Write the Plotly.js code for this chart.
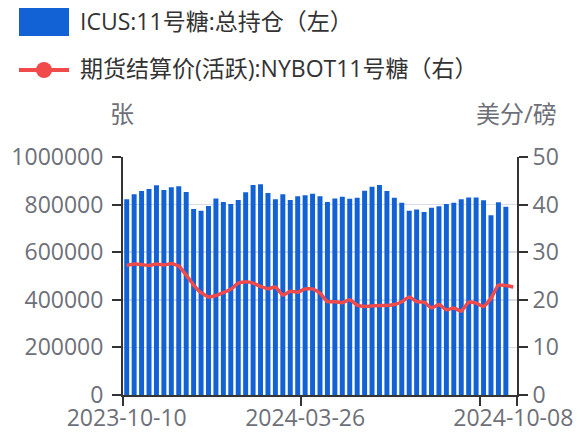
<!DOCTYPE html>
<html>
<head>
<meta charset="utf-8">
<script src="https://cdn.plot.ly/plotly-3.0.1.min.js"></script>
<style>
  html, body { margin: 0; padding: 0; background: #fff; }
  #chart { width: 580px; height: 434px; }
</style>
</head>
<body>
<div id="chart"></div>
<script>
// Weekly dates (category labels)
const dates = [
  "2023-10-10", "2023-10-17", "2023-10-24", "2023-10-31", "2023-11-07", "2023-11-14",
  "2023-11-21", "2023-11-28", "2023-12-05", "2023-12-12", "2023-12-19", "2023-12-26",
  "2024-01-02", "2024-01-09", "2024-01-16", "2024-01-23", "2024-01-30", "2024-02-06",
  "2024-02-13", "2024-02-20", "2024-02-27", "2024-03-05", "2024-03-12", "2024-03-19",
  "2024-03-26", "2024-04-02", "2024-04-09", "2024-04-16", "2024-04-23", "2024-04-30",
  "2024-05-07", "2024-05-14", "2024-05-21", "2024-05-28", "2024-06-04", "2024-06-11",
  "2024-06-18", "2024-06-25", "2024-07-02", "2024-07-09", "2024-07-16", "2024-07-23",
  "2024-07-30", "2024-08-06", "2024-08-13", "2024-08-20", "2024-08-27", "2024-09-03",
  "2024-09-10", "2024-09-17", "2024-09-24", "2024-10-01", "2024-10-08"
];

// ICUS:11号糖:总持仓 (张), last week not reported
const openInterest = [
  822000, 843000, 857000, 866000, 881000, 861000, 873000, 877000, 853000, 782000,
  774000, 794000, 826000, 811000, 802000, 819000, 852000, 882000, 885000, 849000,
  822000, 843000, 819000, 835000, 839000, 846000, 835000, 811000, 826000, 833000,
  825000, 829000, 858000, 875000, 882000, 857000, 829000, 808000, 774000, 779000,
  769000, 787000, 793000, 802000, 808000, 822000, 830000, 830000, 818000, 755000,
  810000, 791000, null
];

// 期货结算价(活跃):NYBOT11号糖 (美分/磅)
const settlePrice = [
  27.2, 27.5, 27.4, 27.2, 27.5, 27.3, 27.6, 27.1, 25.2, 23.1,
  21.5, 20.6, 20.9, 21.5, 22.2, 23.5, 23.8, 23.5, 22.8, 22.3,
  22.7, 21.0, 21.8, 21.6, 22.3, 22.3, 21.4, 19.6, 19.6, 19.4,
  20.0, 18.9, 18.6, 18.7, 18.8, 18.8, 19.0, 19.6, 20.6, 19.6,
  19.5, 18.3, 19.0, 17.9, 18.3, 17.6, 19.5, 19.3, 18.6, 20.3,
  23.1, 23.0, 22.7
];

const xLabels = ["2023-10-10", "2024-03-26", "2024-10-08"];
const xTickMarks = ["2023-10-06 12:00", "2024-03-22 12:00", "2024-09-06 12:00", "2024-10-11 12:00"];
const seriesNames = ["ICUS:11号糖:总持仓（左）", "期货结算价(活跃):NYBOT11号糖（右）"];

const BLUE = "#1262d6";
const RED = "#f04a4a";
const TICK_COLOR = "#6e7079";
const FONT = "'Open Sans', 'Noto Sans CJK SC', sans-serif";

// plot area in pixels
const plotL = 123, plotR = 517, plotT = 157, plotB = 395;
const px = (x) => (x - plotL) / (plotR - plotL);
const py = (y) => (plotB - y) / (plotB - plotT);

const barTrace = {
  x: dates,
  y: openInterest,
  type: "bar",
  name: seriesNames[0],
  marker: { color: BLUE, line: { width: 0 } },
  yaxis: "y",
};

const lineTrace = {
  x: dates,
  y: settlePrice,
  type: "scatter",
  mode: "lines",
  name: seriesNames[1],
  line: { color: RED, width: 3.5, shape: "spline", smoothing: 0.4 },
  yaxis: "y2",
};

const layout = {
  width: 580,
  height: 434,
  margin: { l: plotL, r: 580 - plotR, t: plotT, b: 434 - plotB },
  paper_bgcolor: "#fff",
  plot_bgcolor: "#fff",
  showlegend: false,
  bargap: 0.33,
  font: { family: FONT, color: TICK_COLOR, size: 22 },
  xaxis: {
    type: "date",
    range: ["2023-10-06 12:00", "2024-10-11 12:00"],
    tickmode: "array",
    tickvals: xLabels,
    ticktext: xLabels,
    ticks: "outside",
    ticklen: 1,
    tickcolor: "rgba(0,0,0,0)",
    minor: { tickmode: "array", tickvals: xTickMarks, ticks: "outside", ticklen: 9, tickwidth: 2, tickcolor: "#333", showgrid: false },
    showgrid: false,
    showline: true,
    linecolor: "#333",
    linewidth: 2,
    tickfont: { size: 23, color: TICK_COLOR, family: FONT },
    fixedrange: true,
  },
  yaxis: {
    range: [0, 1000000],
    tickvals: [0, 200000, 400000, 600000, 800000, 1000000],
    ticktext: ["0", "200000", "400000", "600000", "800000", "1000000"],
    ticks: "outside",
    ticklen: 9,
    tickwidth: 2,
    tickcolor: "#333",
    ticklabelstandoff: 4,
    showline: true,
    linecolor: "#333",
    linewidth: 2,
    gridcolor: "#d9dce8",
    gridwidth: 1.5,
    zeroline: false,
    tickfont: { size: 23, color: TICK_COLOR, family: FONT },
  },
  yaxis2: {
    overlaying: "y",
    side: "right",
    range: [0, 50],
    tickvals: [0, 10, 20, 30, 40, 50],
    ticks: "outside",
    ticklen: 9,
    tickwidth: 2,
    tickcolor: "#333",
    showline: true,
    linecolor: "#333",
    linewidth: 2,
    showgrid: false,
    zeroline: false,
    tickfont: { size: 23, color: TICK_COLOR, family: FONT },
  },
  shapes: [
    // legend swatches
    {
      type: "rect", xref: "paper", yref: "paper",
      x0: px(19), x1: px(69), y0: py(36), y1: py(8),
      fillcolor: BLUE, line: { width: 0 },
    },
    {
      type: "line", xref: "paper", yref: "paper",
      x0: px(19), x1: px(69), y0: py(70), y1: py(70),
      line: { color: RED, width: 4 },
    },
    {
      type: "circle", xref: "paper", yref: "paper",
      x0: px(36), x1: px(52), y0: py(78), y1: py(62),
      fillcolor: RED, line: { width: 0 },
    },
  ],
  annotations: [
    {
      text: seriesNames[0], xref: "paper", yref: "paper",
      x: px(78), y: py(21), xanchor: "left", yanchor: "middle",
      showarrow: false, font: { size: 23, color: "#333", family: FONT },
    },
    {
      text: seriesNames[1], xref: "paper", yref: "paper",
      x: px(78), y: py(68), xanchor: "left", yanchor: "middle",
      showarrow: false, font: { size: 23, color: "#333", family: FONT },
    },
    {
      text: "张", xref: "paper", yref: "paper",
      x: px(122), y: py(113), xanchor: "center", yanchor: "middle",
      showarrow: false, font: { size: 24, color: TICK_COLOR, family: FONT },
    },
    {
      text: "美分/磅", xref: "paper", yref: "paper",
      x: px(516), y: py(113), xanchor: "center", yanchor: "middle",
      showarrow: false, font: { size: 24, color: TICK_COLOR, family: FONT },
    },
  ],
};

Plotly.newPlot("chart", [barTrace, lineTrace], layout, { staticPlot: true, displayModeBar: false });
</script>
</body>
</html>
